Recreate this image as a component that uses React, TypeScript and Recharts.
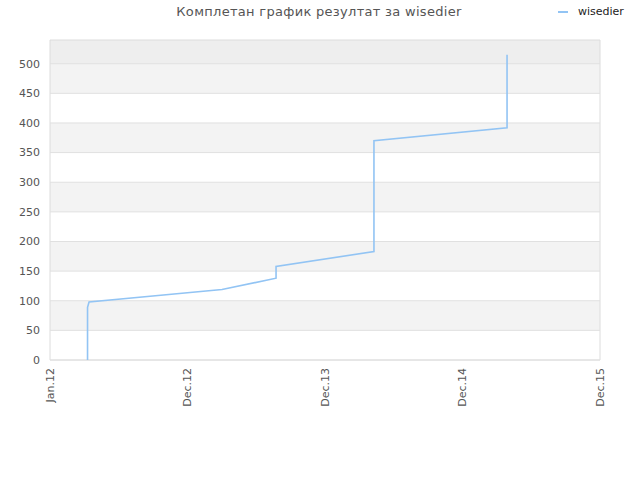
import React from 'react';
import {
  LineChart,
  Line,
  XAxis,
  YAxis,
  ReferenceArea,
  ReferenceLine,
} from 'recharts';

// tick labels
const xLabels = ['Jan.12', 'Dec.12', 'Dec.13', 'Dec.14', 'Dec.15'];
const xTicks = [0, 1, 2, 3, 4];
const yTicks = [0, 50, 100, 150, 200, 250, 300, 350, 400, 450, 500];
const yMax = 540;

// shaded bands (value ranges)
const bandFrom = [50, 150, 250, 350, 450];
const bandTo = [100, 200, 300, 400, 500];

// series: x in tick units (Jan.12 = 0 ... Dec.15 = 4)
const seriesX = [0.273, 0.273, 0.284, 1.251, 1.644, 1.644, 2.356, 2.356, 3.324, 3.324];
const seriesY = [0, 89, 98, 119, 138, 158, 183, 370, 392, 515];

const seriesName = 'wisedier';
const title = 'Комплетан график резултат за wisedier';

const lineColor = '#92c4f4';
const font = '"DejaVu Sans", sans-serif';

const data = seriesX.map((x, i) => ({ x, score: seriesY[i] }));

function XTick(props: any) {
  const { x, y, payload } = props;
  return (
    <text
      x={x}
      y={y}
      transform={`rotate(-90 ${x} ${y})`}
      textAnchor="end"
      dy="0.35em"
      fontSize={11}
      fontFamily={font}
      fill="#555"
    >
      {xLabels[payload.value]}
    </text>
  );
}

export default function App() {
  return (
    <div style={{ position: 'absolute', left: 0, top: 0, width: 640, height: 480, fontFamily: font }}>
      <div
        style={{
          position: 'absolute',
          top: 4,
          left: 0,
          width: 638,
          textAlign: 'center',
          fontSize: 13,
          letterSpacing: 0.3,
          color: '#555',
        }}
      >
        {title}
      </div>
      <div style={{ position: 'absolute', top: 5, left: 558, display: 'flex', alignItems: 'center' }}>
        <span style={{ display: 'inline-block', width: 10, height: 2, background: lineColor, marginRight: 10 }} />
        <span style={{ fontSize: 11, color: '#222' }}>{seriesName}</span>
      </div>

      <LineChart width={640} height={480} data={data} margin={{ top: 40, right: 40, bottom: 0, left: 0 }}>
        <XAxis
          dataKey="x"
          type="number"
          domain={[0, 4]}
          ticks={xTicks}
          interval={0}
          height={120}
          axisLine={false}
          tickLine={false}
          tick={<XTick />}
        />
        <YAxis
          type="number"
          domain={[0, yMax]}
          ticks={yTicks}
          interval={0}
          width={50}
          axisLine={false}
          tickLine={false}
          tickSize={10}
          tickMargin={0}
          tick={{ fontSize: 11, fill: '#555', fontFamily: font }}
        />
        <ReferenceArea x1={0} x2={4} y1={500} y2={yMax} fill="#eeeeee" fillOpacity={1} stroke="none" />
        {bandFrom.map((b, i) => (
          <ReferenceArea key={b} x1={0} x2={4} y1={b} y2={bandTo[i]} fill="#f3f3f3" fillOpacity={1} stroke="none" />
        ))}
        {yTicks.map((t) => (
          <ReferenceLine key={t} y={t} stroke="#e0e0e0" strokeWidth={1} />
        ))}
        <ReferenceArea x1={0} x2={4} y1={0} y2={yMax} fill="none" stroke="#dcdcdc" strokeWidth={1} />
        <Line
          type="linear"
          dataKey="score"
          stroke={lineColor}
          strokeWidth={1.6}
          dot={false}
          isAnimationActive={false}
        />
      </LineChart>
    </div>
  );
}
